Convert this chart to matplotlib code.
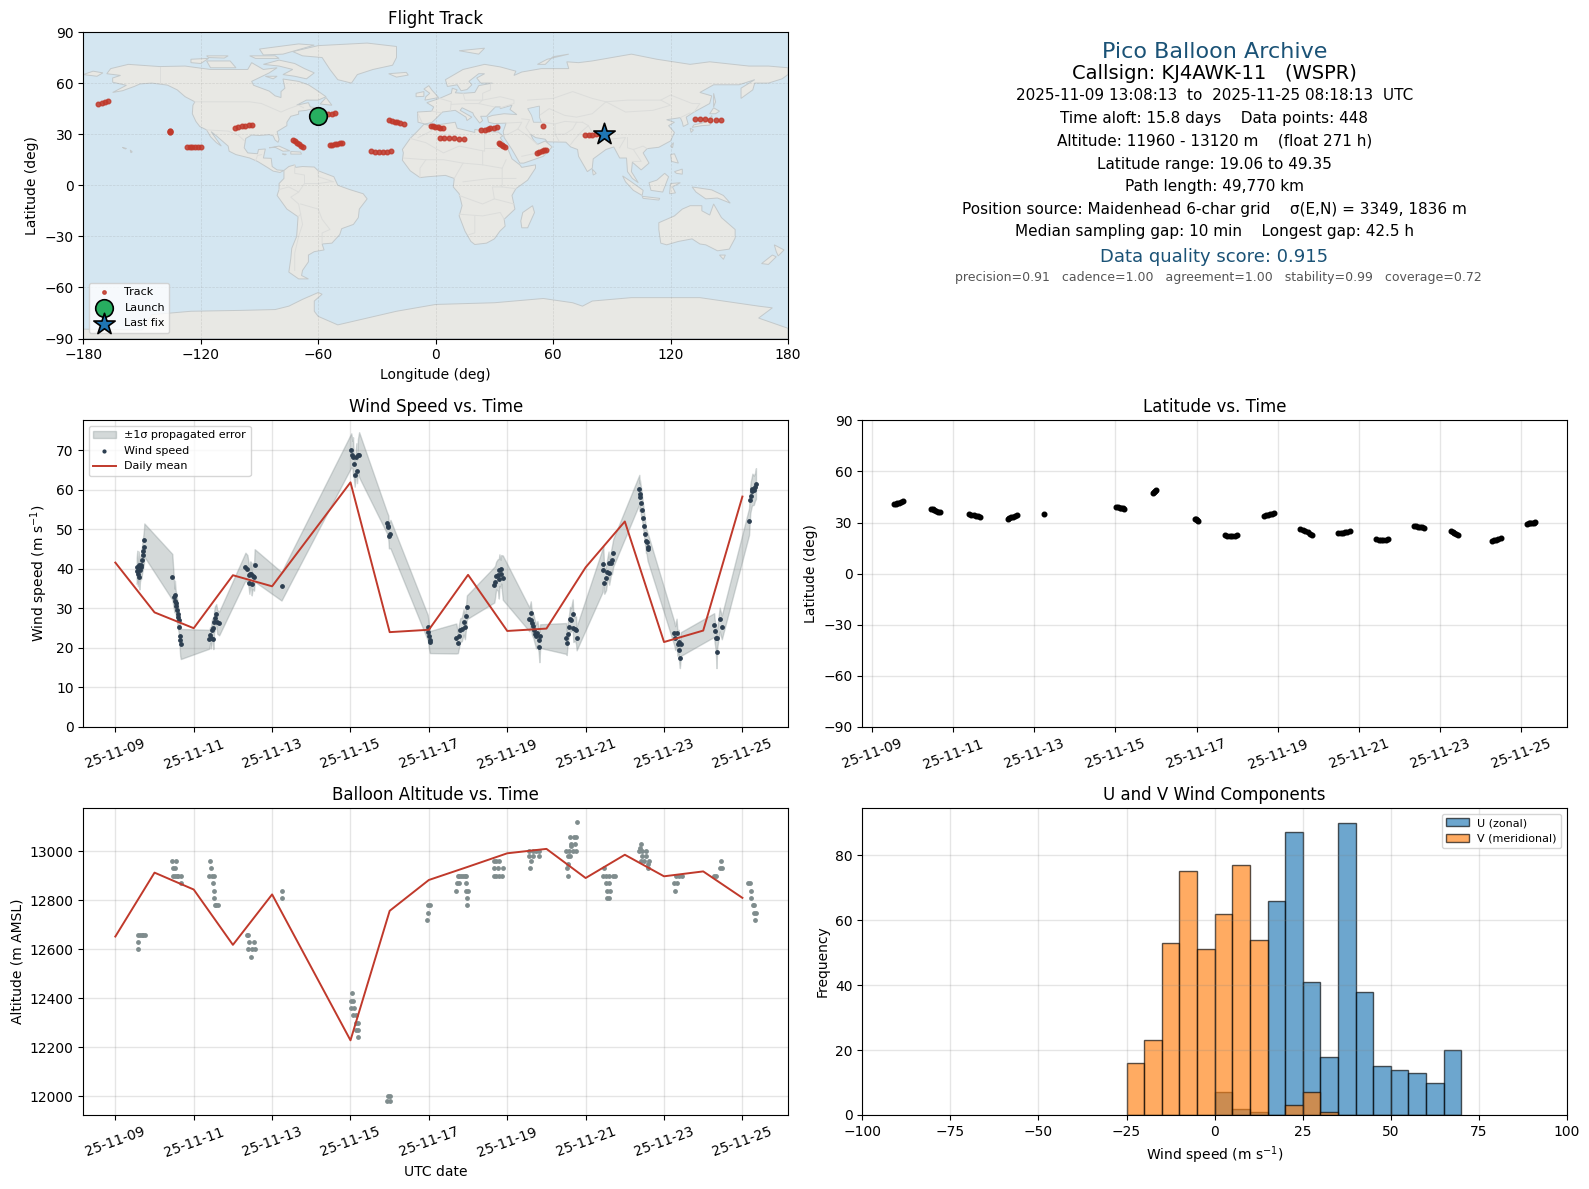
# coding=utf-8
from datetime import datetime
import numpy as np
from matplotlib import pyplot as plt
from matplotlib import dates as mdates
from matplotlib.patches import Polygon

# days since 2025-11-09 00:00 UTC
start_day = mdates.date2num(datetime(2025, 11, 9))
tick_days = [0, 2, 4, 6, 8, 10, 12, 14, 16]

# wind speed points
wind_t = [0.545, 0.56, 0.579, 0.596, 0.613, 0.63, 0.647, 0.664, 0.68, 0.698, 0.714, 0.73, 0.74,
          1.453, 1.50, 1.51, 1.52, 1.54, 1.56, 1.575, 1.59, 1.60, 1.615, 1.63, 1.645, 1.655, 1.67,
          2.395, 2.42, 2.44, 2.46, 2.48, 2.50, 2.52, 2.54, 2.575, 2.60, 2.65,
          3.32, 3.37, 3.40, 3.42, 3.44, 3.46, 3.48, 3.50, 3.54, 3.555,
          4.24,
          6.02, 6.05, 6.065, 6.08, 6.107, 6.15, 6.167, 6.19, 6.22,
          6.93, 6.95, 6.965, 6.98, 7.02,
          7.97, 7.99, 8.00, 8.02, 8.03,
          8.70, 8.74, 8.765, 8.80, 8.84, 8.885, 8.92, 8.95, 8.97,
          9.67, 9.69, 9.716, 9.76, 9.785, 9.80, 9.83, 9.845, 9.886,
          10.566, 10.60, 10.617, 10.634, 10.667, 10.69, 10.72, 10.735, 10.77, 10.80, 10.82, 10.84,
          11.50, 11.517, 11.54, 11.57, 11.60, 11.63, 11.67, 11.686, 11.73, 11.755, 11.77,
          12.434, 12.45, 12.476, 12.52, 12.545, 12.585, 12.60, 12.645, 12.67, 12.705,
          13.37, 13.38, 13.385, 13.42, 13.445, 13.47, 13.495, 13.52, 13.54, 13.555, 13.58, 13.60,
          14.26, 14.285, 14.32, 14.345, 14.37, 14.39, 14.405, 14.43,
          15.28, 15.29, 15.32, 15.34, 15.355, 15.42, 15.474,
          16.17, 16.20, 16.213, 16.24, 16.255, 16.29, 16.32, 16.346]
wind_v = [39.5, 40.6, 38.6, 40.9, 38.0, 39.8, 40.5, 41.0, 42.2, 43.5, 44.5, 45.6, 47.3,
          38.0, 33.0, 32.0, 33.5, 31.5, 30.5, 29.5, 28.5, 27.8, 27.0, 25.4, 23.0, 22.0, 21.0,
          22.2, 23.3, 22.4, 24.5, 25.0, 22.2, 26.6, 27.5, 28.6, 26.6, 26.2,
          40.6, 40.0, 38.5, 36.5, 38.6, 38.8, 36.3, 38.2, 38.0, 40.9,
          35.6,
          70.0, 68.9, 68.3, 66.5, 63.8, 68.3, 64.7, 68.9, 68.9,
          51.7, 50.9, 50.5, 48.2, 48.8,
          25.2, 24.0, 23.0, 22.0, 21.5,
          22.4, 21.2, 22.9, 24.5, 24.7, 26.6, 25.2, 28.1, 30.3,
          36.0, 36.8, 38.3, 38.5, 37.5, 39.7, 38.8, 39.9, 37.8,
          27.2, 28.8, 27.0, 26.2, 25.5, 24.5, 23.5, 22.9, 23.8, 22.0, 20.2, 23.0,
          22.4, 21.2, 23.5, 25.2, 27.4, 27.1, 28.6, 25.0, 24.8, 24.5, 22.4,
          39.7, 41.2, 36.5, 37.6, 39.3, 41.4, 39.0, 41.5, 42.2, 44.1,
          60.1, 58.1, 59.0, 56.6, 55.0, 53.0, 50.9, 48.8, 47.0, 46.9, 45.6, 45.0,
          23.7, 22.5, 23.9, 21.0, 21.6, 19.5, 17.4, 21.0,
          25.8, 24.4, 22.4, 18.9, 22.4, 27.2, 25.2,
          52.0, 57.5, 58.4, 59.6, 60.1, 59.9, 60.7, 61.6]
wind_err = [3.3, 4.0, 3.0, 3.5, 3.2, 3.0, 3.0, 3.5, 3.5, 3.8, 4.0, 4.3, 4.2,
            5.8, 3.5, 3.0, 3.5, 3.0, 3.0, 3.0, 3.0, 3.0, 3.0, 2.8, 3.5, 4.0, 3.8,
            2.4, 2.0, 2.5, 2.5, 2.5, 2.5, 2.7, 3.0, 2.5, 3.0, 3.0,
            3.5, 3.5, 3.0, 2.8, 3.3, 3.0, 3.0, 3.3, 3.5, 4.1,
            3.6,
            4.3, 3.5, 5.0, 3.0, 3.0, 3.5, 3.0, 4.0, 5.7,
            2.7, 3.0, 3.0, 3.0, 3.6,
            3.2, 3.0, 3.0, 3.2, 2.8,
            3.8, 2.5, 3.0, 3.0, 3.0, 3.2, 3.0, 3.0, 3.0,
            4.5, 4.0, 3.5, 4.0, 5.0, 4.0, 3.5, 3.6, 5.6,
            3.0, 3.0, 3.0, 3.0, 3.0, 3.0, 3.0, 3.0, 3.0, 3.0, 3.8, 3.0,
            3.9, 3.0, 2.7, 2.7, 3.0, 3.0, 3.7, 3.5, 3.0, 3.5, 3.0,
            5.5, 4.5, 2.8, 3.0, 3.0, 3.0, 3.0, 3.0, 3.5, 3.5,
            3.7, 3.5, 3.5, 3.5, 3.0, 3.0, 3.0, 3.0, 3.0, 3.0, 3.5, 3.5,
            3.0, 3.0, 3.5, 3.0, 3.0, 3.5, 2.5, 3.0,
            3.0, 3.0, 3.0, 4.0, 2.5, 3.0, 3.0,
            3.4, 3.5, 3.7, 3.7, 4.0, 3.7, 3.5, 3.9]

# daily means, day 5 has no data
daily_t = [0, 1, 2, 3, 4, 6, 7, 8, 9, 10, 11, 12, 13, 14, 15, 16]
daily_wind = [41.6, 29.0, 25.0, 38.4, 35.6, 61.9, 24.0, 24.6, 38.5, 24.3, 24.9, 40.4, 52.0, 21.5, 24.4, 58.3]
daily_alt = [12652, 12913, 12844, 12618, 12824, 12228, 12757, 12883, 12937, 12992, 13010, 12891, 12986, 12898,
             12918, 12810]

alt_t = [0.587, 0.63, 0.672, 0.715, 0.757, 0.579, 0.579,
         1.437, 1.538, 1.479, 1.53, 1.479, 1.52, 1.564, 1.606, 1.666, 1.674,
         2.42, 2.43, 2.396, 2.456, 2.515, 2.498, 2.524, 2.524, 2.54, 2.58, 2.63,
         3.347, 3.39, 3.40, 3.534, 3.39, 3.475, 3.56, 3.466,
         4.24, 4.247,
         6.04, 6.02, 6.065, 6.02, 6.10, 6.065, 6.13, 6.13, 6.20, 6.13, 6.20, 6.20,
         6.957, 7.0, 6.94, 7.0,
         7.976, 8.02, 7.976, 7.96,
         8.74, 8.78, 8.825, 8.867, 8.91, 8.95, 8.714, 8.765, 8.95, 8.70, 8.935, 8.986, 8.97, 8.97,
         9.674, 9.716, 9.80, 9.674, 9.76, 9.886, 9.65, 9.716, 9.80, 9.87,
         10.566, 10.65, 10.735, 10.82, 10.566, 10.65, 10.82, 10.61, 10.574,
         11.77, 11.60, 11.71, 11.755, 11.63, 11.74, 11.63, 11.50, 11.585, 11.67, 11.755, 11.54, 11.61, 11.54,
         11.525, 11.54,
         12.476, 12.434, 12.52, 12.604, 12.69, 12.74, 12.52, 12.604, 12.545, 12.62, 12.545, 12.587,
         13.40, 13.385, 13.37, 13.45, 13.54, 13.45, 13.54, 13.41, 13.496, 13.606, 13.58, 13.59,
         14.30, 14.39, 14.455, 14.26, 14.32, 14.277,
         15.28, 15.32, 15.42, 15.49, 15.466,
         16.145, 16.196, 16.213, 16.23, 16.27, 16.307, 16.30, 16.346, 16.33]
alt_v = [12660, 12660, 12660, 12660, 12660, 12630, 12600,
         12960, 12960, 12930, 12930, 12900, 12900, 12900, 12900, 12900, 12870,
         12960, 12930, 12900, 12900, 12900, 12870, 12840, 12810, 12780, 12780, 12780,
         12660, 12660, 12630, 12630, 12600, 12600, 12600, 12570,
         12840, 12810,
         12420, 12390, 12390, 12360, 12360, 12330, 12330, 12300, 12300, 12270, 12270, 12240,
         12000, 12000, 11980, 11980,
         12780, 12780, 12750, 12720,
         12900, 12900, 12900, 12900, 12900, 12900, 12870, 12870, 12870, 12840, 12840, 12840, 12810, 12780,
         12960, 12960, 12960, 12930, 12930, 12930, 12900, 12900, 12900, 12900,
         13000, 13000, 13000, 13000, 12980, 12980, 12980, 12960, 12930,
         13120, 13060, 13060, 13060, 13030, 13030, 13020, 13000, 13000, 13000, 13000, 12980, 12980, 12950,
         12930, 12900,
         12930, 12900, 12900, 12900, 12900, 12900, 12870, 12870, 12840, 12840, 12810, 12810,
         13030, 13015, 13000, 13000, 13000, 12980, 12980, 12960, 12960, 12960, 12950, 12930,
         12900, 12900, 12900, 12870, 12870, 12840,
         12900, 12900, 12930, 12930, 12960,
         12870, 12870, 12840, 12810, 12780, 12780, 12750, 12750, 12720]

# balloon track, same points for the map and for the latitude panel
track_t = [0.547, 0.58, 0.62, 0.66, 0.70, 0.757,
           1.44, 1.49, 1.53, 1.58, 1.63, 1.68,
           2.40, 2.45, 2.50, 2.55, 2.60, 2.65,
           3.34, 3.38, 3.43, 3.47, 3.52, 3.56,
           4.24,
           6.02, 6.06, 6.10, 6.14, 6.18, 6.22,
           6.92, 6.95, 6.97, 7.0,
           7.96, 7.98, 8.0, 8.03,
           8.70, 8.76, 8.82, 8.88, 8.94, 8.99,
           9.66, 9.71, 9.76, 9.81, 9.86, 9.90,
           10.56, 10.62, 10.68, 10.74, 10.80, 10.85,
           11.50, 11.56, 11.61, 11.67, 11.72, 11.78,
           12.43, 12.49, 12.55, 12.61, 12.67, 12.72,
           13.36, 13.41, 13.46, 13.52, 13.57, 13.62,
           14.27, 14.32, 14.36, 14.41, 14.46,
           15.28, 15.33, 15.39, 15.44, 15.50,
           16.15, 16.19, 16.23, 16.27, 16.31, 16.346]
track_lat = [40.6, 40.9, 41.3, 41.7, 42.1, 42.5,
             38.2, 37.8, 37.4, 36.9, 36.4, 35.9,
             34.9, 34.6, 34.3, 34.0, 33.7, 33.4,
             32.2, 32.6, 33.0, 33.4, 33.9, 34.3,
             35.0,
             39.2, 39.0, 38.8, 38.6, 38.3, 38.1,
             47.6, 48.2, 48.8, 49.35,
             32.0, 31.8, 31.5, 31.1,
             22.5, 22.3, 22.2, 22.2, 22.3, 22.6,
             33.9, 34.2, 34.6, 35.0, 35.3, 35.5,
             26.4, 25.7, 25.0, 24.2, 23.3, 22.4,
             23.6, 23.9, 24.1, 24.4, 24.6, 24.9,
             20.2, 19.8, 19.6, 19.5, 19.7, 20.1,
             28.0, 27.8, 27.6, 27.5, 27.3, 27.0,
             24.8, 24.3, 23.8, 23.2, 22.7,
             19.06, 19.5, 20.0, 20.5, 20.9,
             29.4, 29.6, 29.8, 29.9, 30.0, 30.1]
track_lon = [-60.3, -58.5, -56.8, -55.0, -53.0, -51.3,
             -24.0, -22.5, -21.0, -19.5, -18.0, -16.0,
             -2.5, -1.5, -0.3, 1.0, 2.3, 3.5,
             23.3, 25.0, 26.5, 28.0, 29.8, 31.3,
             55.0,
             132.5, 135.0, 137.5, 140.0, 143.0, 145.7,
             -172.3, -170.5, -169.0, -167.5,
             -135.8, -135.7, -135.6, -135.5,
             -127.0, -125.7, -124.3, -123.0, -121.5, -120.0,
             -102.7, -101.0, -99.0, -97.5, -95.5, -93.8,
             -72.7, -71.7, -70.8, -69.8, -68.7, -67.6,
             -54.0, -52.7, -51.5, -50.2, -49.0, -47.6,
             -33.1, -31.0, -29.0, -27.0, -25.0, -23.0,
             2.2, 4.5, 7.0, 9.5, 12.0, 14.3,
             32.3, 33.0, 33.7, 34.5, 35.2,
             51.9, 53.0, 54.2, 55.4, 56.5,
             76.5, 78.5, 80.0, 82.0, 84.0, 86.0]

# histogram counts per 5 m/s bin
hist_edges = [-25, -20, -15, -10, -5, 0, 5, 10, 15, 20, 25, 30, 35, 40, 45, 50, 55, 60, 65, 70]
u_counts = [0, 0, 0, 0, 0, 7, 2, 1, 66, 87, 41, 18, 90, 38, 15, 14, 13, 10, 20]
v_counts = [16, 23, 53, 75, 51, 62, 77, 54, 0, 3, 7, 1, 0, 0, 0, 0, 0, 0, 0]

info_lines = [
    ('Pico Balloon Archive', 51.5, 16, '#1a5276'),
    ('Callsign: KJ4AWK-11   (WSPR)', 73.5, 14, 'black'),
    ('2025-11-09 13:08:13  to  2025-11-25 08:18:13  UTC', 95, 11, 'black'),
    ('Time aloft: 15.8 days    Data points: 448', 118, 11, 'black'),
    ('Altitude: 11960 - 13120 m    (float 271 h)', 141, 11, 'black'),
    ('Latitude range: 19.06 to 49.35', 164, 11, 'black'),
    ('Path length: 49,770 km', 187, 11, 'black'),
    ('Position source: Maidenhead 6-char grid    σ(E,N) = 3349, 1836 m', 209, 11, 'black'),
    ('Median sampling gap: 10 min    Longest gap: 42.5 h', 232, 11, 'black'),
    ('Data quality score: 0.915', 257.5, 13, '#1a5276'),
]
info_small = 'precision=0.91   cadence=1.00   agreement=1.00   stability=0.99   coverage=0.72'

land_polys = [
    # north america
    [(-168, 65.5), (-166, 68.5), (-157, 71), (-141, 69.7), (-128, 70), (-115, 68), (-108, 68), (-96, 68), (-94, 72),
     (-88, 68), (-81, 69), (-85, 66), (-94, 61), (-93, 58.7), (-85, 55.3), (-82, 52.5), (-79, 51.5), (-79, 55),
     (-77, 57), (-78, 62.4), (-70, 61), (-65, 59), (-61, 56), (-56, 52), (-60, 50), (-66, 50), (-71, 47), (-65, 48.5),
     (-64, 46), (-61, 45.5), (-66, 44), (-70, 43.5), (-70, 41.7), (-74, 40.5), (-76, 37), (-76, 35), (-81, 31.5),
     (-80, 27), (-80.5, 25.2), (-82, 26.5), (-83, 29), (-85, 29.7), (-90, 29.2), (-94, 29.5), (-97, 27.5),
     (-97.8, 22), (-96, 19), (-91, 18.5), (-90.5, 21), (-87, 21.3), (-88, 16), (-84, 15.8), (-83.5, 11), (-81, 9),
     (-77.5, 8.7), (-79.5, 7.5), (-83, 8.3), (-86, 10.5), (-91, 14), (-95, 16), (-102, 18), (-105.5, 20), (-106, 23),
     (-109, 26), (-112.5, 29.5), (-114.7, 31.5), (-112, 27), (-109.5, 23), (-112, 25), (-115, 28.5), (-117, 32.5),
     (-120.5, 34.5), (-122.5, 37.5), (-124.3, 42), (-124, 47), (-123, 49), (-128, 52), (-132, 56), (-137, 58.8),
     (-145, 60), (-151, 59.5), (-154, 58), (-160, 55.5), (-165, 54.5), (-158, 58.7), (-165, 60.5), (-165, 63),
     (-161, 64.5)],
    # greenland and arctic islands
    [(-73, 78.5), (-60, 82), (-35, 83.5), (-20, 81.5), (-20, 75), (-22, 70.5), (-32, 68), (-40, 65), (-43, 60),
     (-50, 62), (-54, 68), (-58, 75), (-68, 76)],
    [(-80, 73.5), (-72, 71.5), (-67, 68.5), (-62, 66), (-66, 62.5), (-72, 64), (-78, 65), (-73, 68), (-80, 70),
     (-88, 71)],
    [(-117, 73), (-105, 73), (-102, 69), (-115, 69)],
    [(-125, 74), (-116, 74.5), (-120, 71.5), (-125, 72)],
    [(-90, 80), (-70, 83), (-62, 82.3), (-78, 77), (-88, 76.5)],
    [(-95, 76), (-82, 76), (-80, 74.5), (-92, 74.5)],
    [(-117, 76), (-106, 76), (-108, 74.7), (-116, 75)],
    [(-87, 64), (-81, 64), (-83, 62.5)],
    [(-59, 47.7), (-56, 51.5), (-53, 47)],
    # caribbean, hawaii
    [(-85, 22), (-80, 23), (-74.5, 20.2), (-78, 20), (-82, 22.3)],
    [(-74, 19.8), (-69, 19.5), (-68.5, 18.3), (-74, 18.3)],
    [(-78.3, 18.4), (-76.3, 18.2), (-77, 17.8)],
    [(-156, 20.7), (-155, 19.6), (-155.7, 19.1)],
    [(-160, 22.2), (-158, 21.6), (-158.5, 21.3)],
    # south america
    [(-77.5, 8.7), (-75, 11), (-72, 12), (-71.5, 10.5), (-68, 11), (-62, 10.7), (-60, 8.5), (-52, 5), (-50, 0),
     (-44, -2.5), (-37, -5), (-35, -8), (-39, -14), (-39.5, -19), (-42, -23), (-48, -25.5), (-49, -29), (-53, -34),
     (-58, -34.5), (-57, -38), (-62, -39), (-65, -41), (-65, -45), (-68, -50), (-68.5, -53), (-65, -55), (-70, -55),
     (-75, -51), (-74, -43), (-73.5, -37), (-71, -30), (-70.3, -18.5), (-76, -14), (-81, -6), (-80, -2.5), (-80, 1),
     (-77.5, 4)],
    # africa
    [(-6, 35.8), (-2, 35), (10, 37), (11, 33.5), (15, 32.4), (20, 31), (20, 32.8), (25, 31.7), (32, 31.2), (34.3, 29),
     (33, 28), (37, 21), (39, 15.5), (43, 12), (44, 10.5), (51, 12), (51, 10), (47, 3), (41, -2), (39, -6), (40.5, -14),
     (35, -20), (35.5, -24), (32.8, -27), (30, -31.5), (26, -34), (20, -34.8), (18, -33), (15, -27), (12, -18),
     (13.5, -12), (12, -5), (9, -1), (9.5, 4), (5, 5.8), (-4, 5), (-8, 4.5), (-13, 8.5), (-17, 14.7), (-16.5, 19),
     (-17, 21), (-13, 27.5), (-9.5, 31.5)],
    # eurasia
    [(-9, 37), (-9.3, 43), (-2, 43.5), (-1, 46), (-4.5, 48.5), (2, 51), (8, 54), (8.5, 57), (11, 56), (10, 54.3),
     (14, 54), (20, 54.5), (22, 58.5), (29, 60), (23, 60), (21, 63), (25, 65.5), (22, 65.5), (17, 61), (18.5, 59),
     (16, 56.2), (13, 55.5), (11, 59), (6, 58), (5, 62), (14, 68), (25, 71), (33, 69.5), (41, 67), (40, 64.5),
     (44, 66.5), (54, 68.5), (68, 68.5), (67, 72.5), (73, 72), (80, 73), (100, 77), (113, 74), (130, 71), (140, 72.5),
     (160, 70), (170, 70), (180, 69), (180, 65), (177, 62.5), (170, 60), (163, 60), (162, 56), (156, 51), (156, 57),
     (163, 62), (155, 59), (142, 59), (135, 54.5), (141, 52.5), (140, 48), (132, 43), (128, 40), (129, 36),
     (126.5, 34.5), (126, 37), (125, 39.7), (121, 39), (118, 38.5), (122, 37), (119, 35), (122, 31), (120, 26),
     (114, 22.3), (108, 21.5), (106, 19), (109, 13), (105, 9), (100.5, 13.5), (100, 8), (103.5, 1.5), (100.5, 4),
     (98, 8), (97.5, 16), (94, 16), (91, 22.5), (87, 21), (80.5, 15.5), (80, 10), (77.5, 8), (73, 17), (72.5, 21),
     (69, 22.5), (66.5, 25.3), (57, 25.5), (56, 27), (51, 28), (48.5, 30), (50, 26.5), (52, 24), (56, 26),
     (59.5, 22.5), (55, 17), (45, 13), (43, 13), (39, 21), (35, 28), (34.5, 31.5), (36, 36.5), (30, 36.2), (27, 37),
     (26.5, 40), (29, 41), (35, 42), (41.5, 41.5), (38, 44.5), (39, 47), (33, 45), (33, 46), (30.5, 46), (28, 43),
     (26, 40.5), (23, 40.5), (24, 38), (22.5, 36.5), (19.5, 41), (19, 42.5), (13.5, 45.5), (12.5, 44), (18.5, 40),
     (16, 38), (15.5, 40), (10, 44), (3.5, 43), (0, 39), (-2, 36.8), (-5.5, 36)],
    [(-180, 65), (-175, 67), (-170, 66), (-173, 64), (-180, 65)],
    # europe and asia islands
    [(-5.5, 50), (1.5, 51.5), (0, 53.5), (-2, 56), (-3.5, 58.5), (-6, 56.5), (-3, 54), (-5, 52)],
    [(-10, 52), (-6, 52.2), (-6, 55), (-10, 54)],
    [(-24, 65.5), (-15, 66.3), (-14, 64.7), (-20, 63.5)],
    [(12, 79), (25, 80.5), (22, 77)],
    [(52, 71), (57, 74), (68, 77), (60, 75.5), (56, 71)],
    [(142, 54), (143, 49), (142, 46), (142, 50)],
    [(131, 34), (136, 35), (140, 35.3), (141.5, 38), (141, 41), (139.7, 38), (136, 36.5), (132, 35.5)],
    [(140, 42), (142, 45.5), (145, 43.5), (143, 42)],
    [(130, 33.5), (131.7, 32.5), (130.5, 31)],
    [(120, 23), (121.5, 25), (121, 22)],
    [(120, 18), (122, 18.5), (124, 13), (120.5, 14)],
    [(122, 8), (126, 9.5), (126, 6.5), (123, 7)],
    [(109, 1.5), (113, 3), (117, 7), (119, 5), (117.5, 0.5), (116, -4), (110, -3)],
    [(95.5, 5.5), (100, 2), (106, -3), (105.5, -6), (101, -3), (97, 2)],
    [(105.5, -6.5), (114.5, -7.7), (114, -8.7), (106, -7.7)],
    [(119.5, -5), (120, 1), (125, 1.5), (121, -1), (122.5, -4.5)],
    [(131, -1), (141, -2.7), (147, -6), (150.5, -10.5), (144, -7.5), (138, -8), (133, -4)],
    [(80, 9.5), (82, 7), (80.5, 6)],
    # australia and new zealand
    [(114, -22), (122, -18), (126, -14), (130, -12), (136, -12), (136, -15), (140, -17.5), (142, -11), (146, -19),
     (153, -26), (153, -31), (150, -37.5), (144, -38.5), (138, -35), (135, -34.5), (131, -31.5), (124, -33), (118, -35),
     (115, -34), (114, -26)],
    [(145, -41), (148, -41), (147, -43.5)],
    [(173, -35), (178, -38), (175, -41.5), (174, -39)],
    [(172, -41), (174, -42), (170, -46.5), (166.5, -46)],
    [(49.5, -12), (50.5, -16), (47, -25), (44, -25), (43.5, -21), (44.5, -16)],
    # antarctica
    [(-180, -90), (-180, -84.5), (-150, -85), (-145, -76), (-125, -74), (-100, -73.5), (-82, -73), (-75, -71),
     (-68, -67), (-60, -63), (-58, -64), (-62, -68), (-62, -74), (-60, -77), (-50, -82), (-35, -78), (-20, -74),
     (0, -70), (30, -69), (55, -66.5), (70, -69), (75, -71), (80, -68), (100, -66), (135, -66), (165, -71), (172, -72),
     (165, -78), (180, -84), (180, -90)],
]
caspian = [(47, 45), (53, 46.5), (53, 40), (54, 37), (50, 37), (49, 41)]

border_lines = [
    [(-141, 69.7), (-141, 60)],
    [(-123, 49), (-95, 49), (-89, 48), (-83, 45), (-79, 43), (-75, 45), (-70, 47), (-67.5, 45.5)],
    [(-117, 32.5), (-106, 31.8), (-101, 29.5), (-97.5, 26)],
    [(-92, 14.5), (-91, 17.5), (-89, 18)],
    [(-72, 12), (-72, 7), (-67, 6), (-67, 1), (-70, -4), (-74, -7), (-70, -11), (-69, -17), (-70.3, -18.5)],
    [(-60, 8.5), (-60, 5), (-52, 2), (-54, 2), (-60, 1), (-67, 1)],
    [(-69, -11), (-60, -14), (-58, -20), (-54, -26), (-58, -28), (-58, -34)],
    [(-69, -17), (-68, -23), (-70, -30), (-72, -40), (-72, -50)],
    [(-80, -2.5), (-75, -1), (-70, -4)],
    [(-9, 28), (-2, 32), (-2, 35)],
    [(-13, 27.5), (-5, 25), (4, 19), (12, 23), (25, 20), (25, 31.7)],
    [(25, 22), (37, 22)],
    [(-16.5, 16), (-5, 15), (4, 15), (14, 13), (24, 12), (24, 20)],
    [(24, 12), (34, 10), (36, 15)],
    [(-8, 4.5), (-8, 10), (-5, 15)],
    [(9.5, 4), (14, 13)],
    [(14, 2), (28, 4), (34, 4), (41, 4)],
    [(34, 10), (34, 4), (34, -1), (29, -1), (30, -8), (24, -11), (12, -6)],
    [(34, -1), (41, -2)],
    [(30, -8), (40, -11)],
    [(12, -17), (24, -18), (33, -16), (35, -20)],
    [(20, -18), (20, -28), (17, -29)],
    [(-9, 42), (-7, 37)],
    [(-2, 43.5), (3, 42.5)],
    [(2, 51), (8, 49), (7.5, 44)],
    [(14, 54), (15, 50), (24, 50), (22, 48), (30, 46)],
    [(8, 47.5), (17, 48), (22, 48)],
    [(24, 50), (24, 54), (28, 56), (28, 60)],
    [(33, 45.5), (40, 48), (40, 50), (33, 52), (24, 50)],
    [(47, 50), (60, 51), (70, 55), (80, 51), (87, 49), (98, 50), (115, 50), (120, 53), (131, 48), (135, 48), (132, 43)],
    [(87, 49), (97, 43), (111, 44), (120, 47), (115, 50)],
    [(53, 41), (58, 45), (66, 41), (72, 40), (80, 42), (87, 49)],
    [(54, 37), (61, 36), (66, 37.5), (72, 37), (75, 37)],
    [(61, 36), (61, 30), (63, 26)],
    [(61, 30), (66, 30), (70, 33), (72, 37)],
    [(69, 24), (71, 27), (75, 32), (78, 35), (80, 31), (88, 27), (97, 28), (94, 22)],
    [(78, 35), (75, 37)],
    [(44, 39), (48, 38.5), (46, 34), (48.5, 30)],
    [(36, 36.5), (44, 37), (42, 33), (37, 30), (34.5, 29.5)],
    [(42, 33), (47, 29), (52, 24)],
    [(44, 17), (52, 19), (55, 22)],
    [(98, 28), (98, 22), (101, 21), (106, 23), (108, 21.5)],
    [(101, 21), (105, 14), (100.5, 14)],
    [(125, 39.7), (130, 42.5)],
]


def to_dates(days):
    return start_day + np.array(days)


def day_axis(ax):
    ax.set_xticks(to_dates(tick_days))
    ax.xaxis.set_major_formatter(mdates.DateFormatter('%y-%m-%d'))
    ax.tick_params(axis='x', labelrotation=20)
    ax.grid(True, color='gray', alpha=0.2, linewidth=1)


def px_axes(fig, left, top, right, bottom):
    # axes box given in picture pixels
    w, h = 1589., 1189.
    return fig.add_axes([left / w, 1 - bottom / h, (right - left) / w, (bottom - top) / h])


def plot_map(ax):
    ax.set_facecolor('#d4e6f1')
    for poly in land_polys:
        ax.add_patch(Polygon(poly, closed=True, facecolor='#e8e8e4', edgecolor='#c3c9cb', linewidth=0.7, zorder=1))
    ax.add_patch(Polygon(caspian, closed=True, facecolor='#d4e6f1', edgecolor='#c3c9cb', linewidth=0.6, zorder=1.2))
    for line in border_lines:
        xy = np.array(line)
        ax.plot(xy[:, 0], xy[:, 1], color='#dcdddb', linewidth=0.7, zorder=1.1)
    ax.grid(True, color='gray', alpha=0.22, linewidth=0.5, linestyle='--', zorder=1.5)
    ax.scatter(track_lon, track_lat, s=11, color='#c0392b', alpha=0.85, label='Track', zorder=3)
    ax.scatter(track_lon[0], track_lat[0], s=160, color='#27ae60', edgecolors='black', linewidths=1.2, label='Launch',
               zorder=4)
    ax.scatter(track_lon[-1], track_lat[-1], s=260, marker='*', color='#1f77b4', edgecolors='black', linewidths=1.2,
               label='Last fix', zorder=4)
    ax.set_xlim(-180, 180)
    ax.set_ylim(-90, 90)
    ax.set_xticks(range(-180, 181, 60))
    ax.set_yticks(range(-90, 91, 30))
    ax.set_xlabel('Longitude (deg)')
    ax.set_ylabel('Latitude (deg)')
    ax.set_title('Flight Track')
    leg = ax.legend(loc='lower left', fontsize=8)
    leg.legend_handles[0].set_sizes([6])


def plot_info(fig):
    for txt, y_px, size, color in info_lines:
        fig.text(1214.5 / 1589., 1 - y_px / 1189., txt, ha='center', va='center', fontsize=size, color=color)
    fig.text(1218.5 / 1589., 1 - 278 / 1189., info_small, ha='center', va='center', fontsize=9, color='#555555')


def plot_wind(ax):
    t = to_dates(wind_t)
    v = np.array(wind_v)
    e = np.array(wind_err)
    ax.fill_between(t, v - e, v + e, color='#7f8c8d', alpha=0.33, label='±1σ propagated error')
    ax.scatter(t, v, s=6, color='#2c3e50', label='Wind speed', zorder=3)
    ax.plot(to_dates(daily_t), daily_wind, color='#c0392b', linewidth=1.4, label='Daily mean', zorder=4)
    ax.set_ylim(0, 77.6)
    ax.set_ylabel('Wind speed (m s$^{-1}$)')
    ax.set_title('Wind Speed vs. Time')
    leg = ax.legend(loc='upper left', fontsize=8)
    leg.legend_handles[1].set_sizes([4])
    day_axis(ax)


def plot_lat(ax):
    ax.scatter(to_dates(track_t), track_lat, s=11, color='black', zorder=3)
    ax.set_ylim(-90, 90)
    ax.set_yticks(range(-90, 91, 30))
    ax.set_ylabel('Latitude (deg)')
    ax.set_title('Latitude vs. Time')
    day_axis(ax)


def plot_alt(ax):
    ax.scatter(to_dates(alt_t), alt_v, s=6, color='#7f8c8d', zorder=3)
    ax.plot(to_dates(daily_t), daily_alt, color='#c0392b', linewidth=1.4, zorder=4)
    ax.set_ylabel('Altitude (m AMSL)')
    ax.set_xlabel('UTC date')
    ax.set_title('Balloon Altitude vs. Time')
    day_axis(ax)


def plot_hist(ax):
    ax.hist(hist_edges[:-1], bins=hist_edges, weights=u_counts, color='#1f77b4', alpha=0.65, edgecolor='black',
            label='U (zonal)')
    ax.hist(hist_edges[:-1], bins=hist_edges, weights=v_counts, color='#ff7f0e', alpha=0.65, edgecolor='black',
            label='V (meridional)')
    ax.set_xlim(-100, 100)
    ax.set_xlabel('Wind speed (m s$^{-1}$)')
    ax.set_ylabel('Frequency')
    ax.set_title('U and V Wind Components')
    ax.grid(True, color='gray', alpha=0.2, linewidth=1)
    ax.legend(loc='upper right', fontsize=8)


def main():
    fig = plt.figure(figsize=(15.89, 11.89), dpi=100)
    plot_map(px_axes(fig, 83.3, 32, 788, 338.5))
    plot_info(fig)
    plot_wind(px_axes(fig, 83.3, 420.3, 788, 727))
    plot_lat(px_axes(fig, 862.3, 420.3, 1567, 727))
    plot_alt(px_axes(fig, 83.3, 808, 788, 1115))
    plot_hist(px_axes(fig, 862.3, 808, 1567, 1115))
    fig.savefig('out.png', dpi=100)


if __name__ == '__main__':
    main()
